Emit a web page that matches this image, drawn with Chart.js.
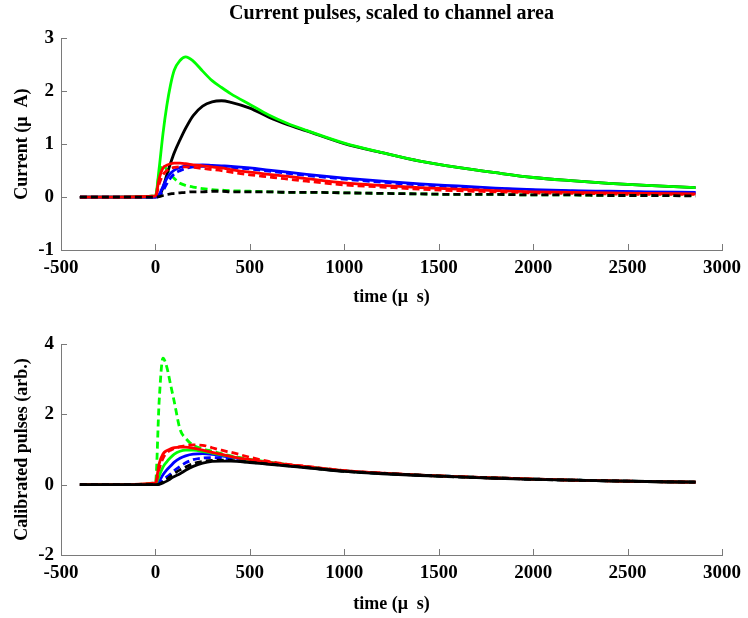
<!DOCTYPE html>
<html>
<head>
<meta charset="utf-8">
<script src="https://cdn.jsdelivr.net/npm/chart.js@4/dist/chart.umd.min.js"></script>
<style>
  html, body { margin: 0; padding: 0; background: #fff; }
  #wrap { position: relative; width: 748px; height: 618px; }
  .panel { position: absolute; left: 0; width: 748px; }
  #top-panel { top: 0; height: 310px; }
  #bottom-panel { top: 310px; height: 308px; }
</style>
</head>
<body>
<div id="wrap">
  <div class="panel" id="top-panel"><canvas id="current-chart"></canvas></div>
  <div class="panel" id="bottom-panel"><canvas id="calib-chart"></canvas></div>
</div>
<script>
// time axis shared by all traces (microseconds)
const timeUs = [-400, -200, 0, 20, 40, 60, 80, 100, 130, 160, 200, 250, 300, 350, 400, 500, 600, 700, 800, 1000, 1200, 1400, 1600, 1800, 2000, 2200, 2400, 2600, 2860];

const xTicks = [-500, 0, 500, 1000, 1500, 2000, 2500, 3000];
const topYTicks = [-1, 0, 1, 2, 3];
const bottomYTicks = [-2, 0, 2, 4];

// current pulses, scaled to channel area (uA)
const curGreenSolid = [0, 0, 0.02, 0.55, 1.2, 1.72, 2.12, 2.4, 2.58, 2.65, 2.57, 2.38, 2.2, 2.07, 1.95, 1.75, 1.55, 1.39, 1.26, 1.02, 0.84, 0.68, 0.56, 0.46, 0.37, 0.31, 0.26, 0.22, 0.18];
const curBlackSolid = [0, 0, 0, 0.02, 0.18, 0.42, 0.64, 0.84, 1.08, 1.3, 1.54, 1.72, 1.8, 1.82, 1.79, 1.68, 1.51, 1.37, 1.25, 1.01, 0.84, 0.68, 0.56, 0.46, 0.37, 0.31, 0.26, 0.22, 0.18];
const curRedSolid = [0, 0, 0.02, 0.35, 0.55, 0.6, 0.63, 0.64, 0.64, 0.63, 0.61, 0.59, 0.57, 0.55, 0.52, 0.47, 0.43, 0.39, 0.35, 0.27, 0.22, 0.18, 0.15, 0.12, 0.1, 0.09, 0.08, 0.07, 0.06];
const curRedDashed = [0, 0, 0.01, 0.25, 0.42, 0.5, 0.54, 0.56, 0.57, 0.57, 0.56, 0.54, 0.52, 0.5, 0.47, 0.42, 0.38, 0.34, 0.3, 0.23, 0.19, 0.15, 0.12, 0.1, 0.08, 0.07, 0.06, 0.05, 0.05];
const curBlueSolid = [0, 0, 0, 0.05, 0.2, 0.35, 0.45, 0.51, 0.56, 0.59, 0.6, 0.61, 0.6, 0.59, 0.58, 0.55, 0.51, 0.47, 0.43, 0.36, 0.3, 0.25, 0.21, 0.17, 0.14, 0.12, 0.11, 0.1, 0.09];
const curBlueDashed = [0, 0, 0, 0.02, 0.12, 0.25, 0.36, 0.44, 0.5, 0.54, 0.57, 0.58, 0.58, 0.57, 0.56, 0.53, 0.49, 0.45, 0.41, 0.34, 0.28, 0.23, 0.19, 0.16, 0.13, 0.11, 0.1, 0.09, 0.08];
const curGreenDashed = [0, 0, 0.02, 0.45, 0.6, 0.52, 0.43, 0.35, 0.26, 0.22, 0.19, 0.16, 0.14, 0.13, 0.12, 0.11, 0.1, 0.09, 0.09, 0.08, 0.07, 0.06, 0.05, 0.05, 0.04, 0.04, 0.03, 0.03, 0.03];
const curBlackDashed = [0, 0, 0, 0.01, 0.03, 0.05, 0.06, 0.07, 0.08, 0.09, 0.1, 0.1, 0.11, 0.11, 0.1, 0.1, 0.1, 0.09, 0.09, 0.08, 0.07, 0.06, 0.05, 0.05, 0.04, 0.04, 0.03, 0.03, 0.02];

// calibrated pulses (arb.)
const calGreenDashed = [0, 0, 0.05, 2.4, 3.6, 3.35, 2.85, 2.35, 1.58, 1.32, 1.12, 1.02, 0.95, 0.88, 0.82, 0.72, 0.64, 0.57, 0.51, 0.39, 0.32, 0.27, 0.23, 0.19, 0.16, 0.13, 0.11, 0.09, 0.07];
const calRedSolid = [0, 0, 0.05, 0.6, 0.87, 0.97, 1.02, 1.05, 1.07, 1.07, 1.04, 0.98, 0.92, 0.86, 0.8, 0.71, 0.63, 0.57, 0.51, 0.4, 0.33, 0.27, 0.23, 0.19, 0.16, 0.13, 0.11, 0.09, 0.07];
const calRedDashed = [0, 0, 0.03, 0.45, 0.75, 0.9, 0.98, 1.03, 1.08, 1.11, 1.13, 1.12, 1.05, 0.98, 0.92, 0.78, 0.66, 0.58, 0.52, 0.4, 0.33, 0.27, 0.23, 0.19, 0.16, 0.13, 0.11, 0.09, 0.07];
const calGreenSolid = [0, 0, 0.02, 0.25, 0.5, 0.65, 0.77, 0.87, 0.95, 0.98, 0.98, 0.95, 0.9, 0.85, 0.8, 0.7, 0.62, 0.56, 0.5, 0.39, 0.32, 0.27, 0.23, 0.19, 0.16, 0.13, 0.11, 0.09, 0.07];
const calBlueSolid = [0, 0, 0, 0.1, 0.28, 0.42, 0.53, 0.64, 0.75, 0.82, 0.87, 0.88, 0.86, 0.82, 0.78, 0.69, 0.61, 0.55, 0.5, 0.39, 0.32, 0.27, 0.23, 0.19, 0.16, 0.13, 0.11, 0.09, 0.07];
const calBlueDashed = [0, 0, 0, 0.04, 0.12, 0.22, 0.3, 0.4, 0.52, 0.62, 0.71, 0.76, 0.77, 0.76, 0.73, 0.66, 0.6, 0.54, 0.49, 0.39, 0.32, 0.27, 0.23, 0.19, 0.16, 0.13, 0.11, 0.09, 0.07];
const calBlackDashed = [0, 0, 0, 0.02, 0.08, 0.15, 0.24, 0.32, 0.42, 0.5, 0.6, 0.66, 0.69, 0.7, 0.69, 0.64, 0.59, 0.54, 0.49, 0.38, 0.32, 0.27, 0.22, 0.19, 0.15, 0.13, 0.11, 0.09, 0.07];
const calBlackSolid = [0, 0, 0, 0.01, 0.05, 0.1, 0.17, 0.23, 0.31, 0.41, 0.52, 0.61, 0.66, 0.67, 0.67, 0.63, 0.58, 0.53, 0.48, 0.38, 0.31, 0.26, 0.22, 0.18, 0.15, 0.13, 0.11, 0.09, 0.07];

const GREEN = '#00ff00';
const BLUE = '#0000ff';
const RED = '#ff0000';
const BLACK = '#000000';
const AXIS_COLOR = '#7a7a7a';
const FONT = '"Liberation Serif", "Times New Roman", serif';

const toPoints = (values) => timeUs.map((t, i) => ({ x: t, y: values[i] }));

const trace = (values, color, dashed) => ({
    data: toPoints(values),
    borderColor: color,
    borderWidth: 2.8,
    borderDash: dashed ? [7, 4] : [],
    pointRadius: 0,
    fill: false,
    cubicInterpolationMode: 'monotone'
});

// matlab style ticks pointing into the plot
const inwardTicks = {
    id: 'inwardTicks',
    afterDatasetsDraw(chart) {
        const { ctx, chartArea: a, scales: { x, y } } = chart;
        ctx.save();
        ctx.strokeStyle = AXIS_COLOR;
        ctx.lineWidth = 1;
        ctx.beginPath();
        x.ticks.forEach(t => {
            const px = Math.round(x.getPixelForValue(t.value)) + 0.5;
            ctx.moveTo(px, a.bottom);
            ctx.lineTo(px, a.bottom - 6);
        });
        y.ticks.forEach(t => {
            const py = Math.round(y.getPixelForValue(t.value)) + 0.5;
            ctx.moveTo(a.left, py);
            ctx.lineTo(a.left + 6, py);
        });
        ctx.stroke();
        ctx.restore();
    }
};

const makeChart = (canvasId, datasets, opts) => {
    return new Chart(document.getElementById(canvasId), {
        type: 'line',
        data: { datasets },
        plugins: [inwardTicks],
        options: {
            responsive: true,
            maintainAspectRatio: false,
            animation: false,
            layout: { padding: { left: 0, right: 23, top: opts.padTop, bottom: 0 } },
            plugins: {
                legend: { display: false },
                tooltip: { enabled: false },
                title: opts.title ? {
                    display: true,
                    fullSize: false,
                    text: opts.title,
                    color: '#000',
                    font: { family: FONT, size: 20, weight: 'bold' },
                    padding: { top: 2, bottom: 12.3 }
                } : { display: false }
            },
            scales: {
                x: {
                    type: 'linear',
                    min: -500,
                    max: 3000,
                    afterBuildTicks: (scale) => { scale.ticks = xTicks.map(v => ({ value: v })); },
                    grid: { display: false, drawTicks: false },
                    border: { display: true, color: AXIS_COLOR, width: 1 },
                    ticks: {
                        color: '#000', padding: 7, maxRotation: 0,
                        callback: (v) => String(v),
                        font: { family: FONT, size: 19, weight: 'bold' }
                    },
                    title: {
                        display: true,
                        text: 'time (μ  s)',
                        color: '#000',
                        padding: { top: 0, bottom: opts.xTitlePad },
                        font: { family: FONT, size: 18, weight: 'bold' }
                    },
                    afterFit: (scale) => { scale.height = opts.xHeight; }
                },
                y: {
                    min: opts.yMin,
                    max: opts.yMax,
                    afterBuildTicks: (scale) => { scale.ticks = opts.yTicks.map(v => ({ value: v })); },
                    grid: { display: false, drawTicks: false },
                    border: { display: true, color: AXIS_COLOR, width: 1 },
                    ticks: {
                        color: '#000', padding: 7,
                        callback: (v) => String(v),
                        font: { family: FONT, size: 19, weight: 'bold' }
                    },
                    title: {
                        display: true,
                        text: opts.yTitle,
                        color: '#000',
                        padding: { top: 12, bottom: 0 },
                        font: { family: FONT, size: 18, weight: 'bold' }
                    },
                    afterFit: (scale) => { scale.width = 61; }
                }
            }
        }
    });
};

makeChart('current-chart', [
    trace(curBlackDashed, BLACK, true),
    trace(curRedSolid, RED, false),
    trace(curRedDashed, RED, true),
    trace(curBlueDashed, BLUE, true),
    trace(curBlueSolid, BLUE, false),
    trace(curGreenSolid, GREEN, false),
    trace(curBlackSolid, BLACK, false),
    trace(curGreenDashed, GREEN, true)
], {
    title: 'Current pulses, scaled to channel area',
    padTop: 0,
    yMin: -1, yMax: 3, yTicks: topYTicks,
    yTitle: 'Current (μ  A)',
    xHeight: 60,
    xTitlePad: 2
});

makeChart('calib-chart', [
    trace(calBlackDashed, BLACK, true),
    trace(calBlackSolid, BLACK, false),
    trace(calRedSolid, RED, false),
    trace(calRedDashed, RED, true),
    trace(calGreenSolid, GREEN, false),
    trace(calBlueSolid, BLUE, false),
    trace(calBlueDashed, BLUE, true),
    trace(calGreenDashed, GREEN, true)
], {
    title: null,
    padTop: 34,
    yMin: -2, yMax: 4, yTicks: bottomYTicks,
    yTitle: 'Calibrated pulses (arb.)',
    xHeight: 63,
    xTitlePad: 3
});
</script>
</body>
</html>
